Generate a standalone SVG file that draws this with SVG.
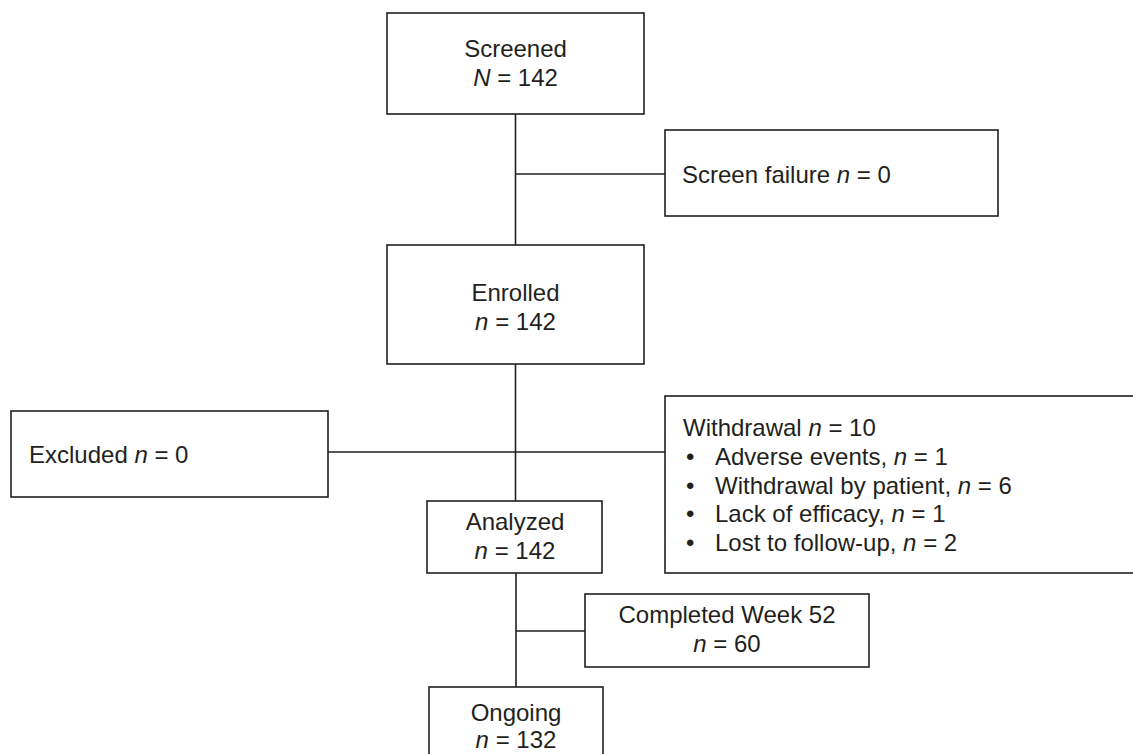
<svg xmlns="http://www.w3.org/2000/svg" width="1133" height="754" viewBox="0 0 1133 754">
<style>
.box{fill:#fff;stroke:#231f20;stroke-width:1.6}
.ln{stroke:#231f20;stroke-width:1.6;fill:none}
text{font-family:"Liberation Sans",Arial,Helvetica,sans-serif;font-size:24px;fill:#231f20}
.c{text-anchor:middle}
.i{font-style:italic}
</style>
<rect x="0" y="0" width="1133" height="754" fill="#fff"/>
<g id="connectors">
<path class="ln" d="M515.5,114 V245 M515.5,174 H665"/>
<path class="ln" d="M515.5,364 V501 M328,452 H665"/>
<path class="ln" d="M516,573 V687 M516,631 H585"/>
</g>
<g id="screened">
<rect class="box" x="387" y="13" width="257" height="101"/>
<text class="c" x="515.5" y="57">Screened</text>
<text class="c" x="515.5" y="86"><tspan class="i">N</tspan> = 142</text>
</g>
<g id="screen-failure">
<rect class="box" x="665" y="130" width="333" height="86"/>
<text x="682" y="183">Screen failure <tspan class="i">n</tspan> = 0</text>
</g>
<g id="enrolled">
<rect class="box" x="387" y="245" width="257" height="119"/>
<text class="c" x="515.5" y="301">Enrolled</text>
<text class="c" x="515.5" y="330"><tspan class="i">n</tspan> = 142</text>
</g>
<g id="excluded">
<rect class="box" x="11" y="411" width="317" height="86"/>
<text x="29" y="463">Excluded <tspan class="i">n</tspan> = 0</text>
</g>
<g id="withdrawal">
<rect class="box" x="665" y="396" width="490" height="177"/>
<text x="683" y="436">Withdrawal <tspan class="i">n</tspan> = 10</text>
<text x="686" y="465">•</text><text x="715" y="465">Adverse events, <tspan class="i">n</tspan> = 1</text>
<text x="686" y="494">•</text><text x="715" y="494">Withdrawal by patient, <tspan class="i">n</tspan> = 6</text>
<text x="686" y="522">•</text><text x="715" y="522">Lack of efficacy, <tspan class="i">n</tspan> = 1</text>
<text x="686" y="551">•</text><text x="715" y="551">Lost to follow-up, <tspan class="i">n</tspan> = 2</text>
</g>
<g id="analyzed">
<rect class="box" x="427" y="501" width="175" height="72"/>
<text class="c" x="515" y="530">Analyzed</text>
<text class="c" x="515" y="559"><tspan class="i">n</tspan> = 142</text>
</g>
<g id="completed">
<rect class="box" x="585" y="594" width="284" height="73"/>
<text class="c" x="727" y="623">Completed Week 52</text>
<text class="c" x="727" y="652"><tspan class="i">n</tspan> = 60</text>
</g>
<g id="ongoing">
<rect class="box" x="429" y="687" width="174" height="90"/>
<text class="c" x="516" y="721">Ongoing</text>
<text class="c" x="516" y="748"><tspan class="i">n</tspan> = 132</text>
</g>
</svg>
